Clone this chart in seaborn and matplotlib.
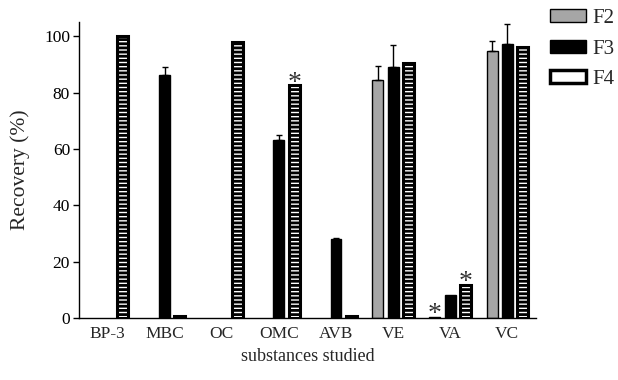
import numpy as np
import pandas as pd
import matplotlib
matplotlib.use("Agg")
import matplotlib.pyplot as plt
from matplotlib.container import BarContainer
import seaborn as sns

categories = ["BP-3", "MBC", "OC", "OMC", "AVB", "VE", "VA", "VC"]
series = ["F2", "F3", "F4"]
f2_values = [np.nan, np.nan, np.nan, np.nan, np.nan, 84.3, 0.5, 94.7]
f3_values = [np.nan, 86.3, np.nan, 63.0, 28.0, 89.0, 8.2, 97.3]
f4_values = [100.0, 0.6, 97.9, 82.5, 0.6, 90.5, 11.8, 96.1]
f2_errors = [0, 0, 0, 0, 0, 5.0, 0, 3.6]
f3_errors = [0, 2.8, 0, 1.8, 0.4, 7.8, 0, 7.0]
f4_errors = [0, 0, 0, 0, 0, 0, 0, 0]
f2_stars = [False, False, False, False, False, False, True, False]
f3_stars = [False] * 8
f4_stars = [False, False, False, True, False, False, True, False]
y_ticks = [0, 20, 40, 60, 80, 100]

sns.set_theme(style="ticks")
plt.rcParams["font.family"] = ["Liberation Serif", "DejaVu Serif"]
plt.rcParams["hatch.linewidth"] = 2.0

rows = []
for s, vals in zip(series, [f2_values, f3_values, f4_values]):
    for c, v in zip(categories, vals):
        if not np.isnan(v):
            rows.append({"substance": c, "series": s, "recovery": v})
df = pd.DataFrame(rows)

fig = plt.figure(figsize=(6.18, 3.80), dpi=100)
ax = fig.add_axes([0.128, 0.163, 0.739, 0.779])

palette = {"F2": "#a6a6a6", "F3": "#000000", "F4": "#ffffff"}
sns.barplot(data=df, x="substance", y="recovery", hue="series",
            order=categories, hue_order=series, palette=palette,
            width=0.8, gap=0.28, errorbar=None, ax=ax, legend=True,
            edgecolor="black", linewidth=1.0, saturation=1)

errs = [f2_errors, f3_errors, f4_errors]
stars = [f2_stars, f3_stars, f4_stars]
bar_conts = [c for c in ax.containers if isinstance(c, BarContainer)]
for k, cont in enumerate(bar_conts):
    for bar in list(cont):
        if bar is None:
            continue
        if k == 2:
            bar.set_hatch("----")
            bar.set_linewidth(2.2)
            bar.set_edgecolor("black")
        cx = bar.get_x() + bar.get_width() / 2
        i = int(round(cx))
        v = bar.get_height()
        e = errs[k][i]
        if e > 0:
            ax.errorbar([cx], [v], yerr=[[0], [e]], fmt="none", ecolor="black",
                        elinewidth=1.0, capsize=2.5, capthick=1.0, zorder=1)
        if stars[k][i]:
            ax.text(cx, v - 3.6, "*", ha="center", va="bottom", fontsize=20,
                    color="#333333", clip_on=False)

ax.set_ylim(0, 105)
ax.set_xlim(-0.5, 7.5)
ax.set_yticks(y_ticks)
ax.tick_params(axis="y", length=4.5, width=1, labelsize=12.5, colors="black", pad=2)
ax.tick_params(axis="x", length=0, labelsize=12.5, pad=6)
ax.set_ylabel("Recovery (%)", fontsize=15.5, labelpad=10)
ax.set_xlabel("substances studied", fontsize=13, labelpad=4)
sns.despine(ax=ax)
for sp in ["left", "bottom"]:
    ax.spines[sp].set_linewidth(1.0)
    ax.spines[sp].set_color("black")

handles, labels = ax.get_legend_handles_labels()
leg = ax.legend(handles, labels, loc="upper left", bbox_to_anchor=(1.031, 1.043),
                frameon=False, fontsize=15, handlelength=1.75, handleheight=0.58,
                labelspacing=0.55, handletextpad=0.3, borderaxespad=0, borderpad=0)
for p in leg.get_patches():
    p.set_edgecolor("black")
leg.get_patches()[2].set_linewidth(2.5)

fig.savefig("out.png", dpi=100)
